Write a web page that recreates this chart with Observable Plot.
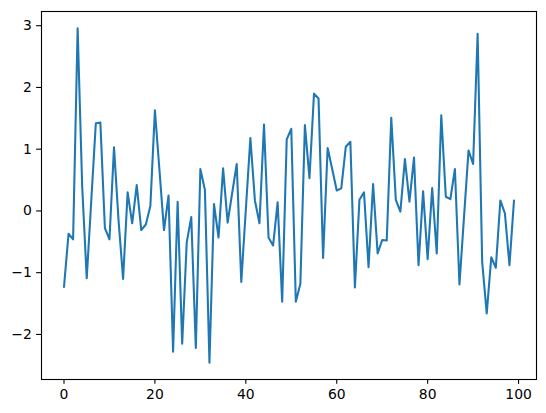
<!DOCTYPE html>
<html><head><meta charset="utf-8">
<script src="https://cdn.jsdelivr.net/npm/d3@7"></script>
<script src="https://cdn.jsdelivr.net/npm/@observablehq/plot@0.6"></script>
<style>body{margin:0;background:#fff}</style>
</head><body><div id="chart"></div>
<script>
const values = [
 -1.23, -0.37, -0.46, 2.96, 0.40, -1.09, 0.17, 1.42, 1.43, -0.28,
 -0.46, 1.03, -0.15, -1.10, 0.30, -0.20, 0.42, -0.31, -0.22, 0.08,
 1.63, 0.66, -0.31, 0.25, -2.28, 0.15, -2.15, -0.51, -0.10, -2.22,
 0.68, 0.34, -2.46, 0.11, -0.43, 0.69, -0.19, 0.29, 0.76, -1.15,
 0.02, 1.18, 0.17, -0.20, 1.40, -0.43, -0.56, 0.14, -1.47, 1.16,
 1.33, -1.47, -1.18, 1.39, 0.53, 1.90, 1.82, -0.76, 1.02, 0.68,
 0.33, 0.365, 1.04, 1.12, -1.24, 0.18, 0.30, -0.91, 0.435, -0.69,
 -0.47, -0.48, 1.51, 0.18, -0.01, 0.84, 0.15, 0.865, -0.88, 0.32,
 -0.78, 0.37, -0.69, 1.55, 0.23, 0.19, 0.68, -1.19, -0.10, 0.98,
 0.76, 2.87, -0.83, -1.66, -0.75, -0.92, 0.17, -0.04, -0.88, 0.17
];
const xTicks = [0, 20, 40, 60, 80, 100];
const yTicks = [-2, -1, 0, 1, 2, 3];
const data = values.map((v, i) => ({x: i, y: v}));
const fmt = d => d < 0 ? "\u2212" + Math.abs(d) : String(d);
const chart = Plot.plot({
  width: 546, height: 413,
  marginLeft: 41, marginRight: 10, marginTop: 11, marginBottom: 34,
  style: {fontFamily: "DejaVu Sans", fontSize: "13.9px", color: "black", background: "white"},
  x: {domain: [-4.95, 103.95]},
  y: {domain: [-2.73, 3.23]},
  marks: [
    Plot.line(data, {x: "x", y: "y", stroke: "#1f77b4", strokeWidth: 2.08, strokeLinejoin: "round"}),
    Plot.frame({stroke: "black", strokeWidth: 1.1}),
    Plot.axisX({ticks: xTicks, tickSize: 4.86, tickPadding: 4.86, tickFormat: fmt, label: null, strokeWidth: 1.1}),
    Plot.axisY({ticks: yTicks, tickSize: 4.86, tickPadding: 4.86, tickFormat: fmt, label: null, strokeWidth: 1.1})
  ]
});
document.getElementById("chart").appendChild(chart);
</script>
</body></html>
